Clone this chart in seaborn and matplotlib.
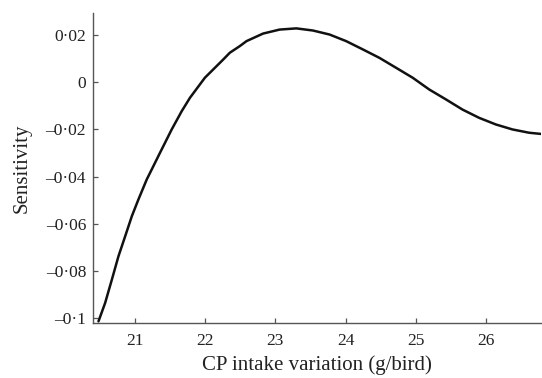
import numpy as np
import pandas as pd
import matplotlib
matplotlib.use("Agg")
import matplotlib.pyplot as plt
import seaborn as sns
from matplotlib.ticker import FuncFormatter

# Values
cp_intake = [20.478, 20.573, 20.669, 20.763, 20.858, 20.953, 21.047, 21.166,
             21.213, 21.355, 21.522, 21.664, 21.782, 21.995, 22.256, 22.351,
             22.493, 22.588, 22.824, 23.061, 23.299, 23.535, 23.772, 24.009,
             24.246, 24.484, 24.721, 24.957, 25.194, 25.432, 25.668, 25.905,
             26.143, 26.379, 26.616, 26.783]
sensitivity = [-0.1013, -0.0935, -0.0836, -0.0737, -0.0653, -0.0568, -0.0497, -0.0412,
               -0.0384, -0.0299, -0.0200, -0.0123, -0.0066, 0.0019, 0.0096, 0.0125,
               0.0153, 0.0174, 0.0206, 0.0223, 0.0228, 0.0219, 0.0202, 0.0174,
               0.0139, 0.0103, 0.0061, 0.0019, -0.0031, -0.0073, -0.0116, -0.0151,
               -0.0179, -0.0200, -0.0214, -0.0219]
x_ticks = [21, 22, 23, 24, 25, 26]
y_ticks = [-0.1, -0.08, -0.06, -0.04, -0.02, 0, 0.02]

df = pd.DataFrame({"cp": cp_intake, "sens": sensitivity})

sns.set_style("ticks")
plt.rcParams['font.family'] = ['Liberation Serif', 'DejaVu Serif']

fig = plt.figure(figsize=(5.42, 3.78), dpi=100)
ax = fig.add_axes([0.1716, 0.1455, 0.827, 0.82])

sns.lineplot(data=df, x="cp", y="sens", ax=ax, color="#111111", linewidth=1.8)

ax.set_xlim(20.40, 26.79)
ax.set_ylim(-0.102, 0.0293)
ax.set_xticks(x_ticks)
ax.set_yticks(y_ticks)


def fmt(v, pos):
    s = f"{abs(v):g}".replace(".", "\u00b7")
    return ("\u2013" + s) if v < -1e-9 else s


ax.yaxis.set_major_formatter(FuncFormatter(fmt))
ax.xaxis.set_major_formatter(FuncFormatter(lambda v, p: f"{v:g}"))

ax.tick_params(direction="in", length=3.5, width=0.9, color="#555555",
               labelsize=12.5, labelcolor="#222222")
ax.tick_params(axis="x", pad=7)
ax.tick_params(axis="y", pad=5)

for side in ["top", "right"]:
    ax.spines[side].set_visible(False)
for side in ["left", "bottom"]:
    ax.spines[side].set_color("#555555")
    ax.spines[side].set_linewidth(1.0)

ax.set_xlabel("CP intake variation (g/bird)", fontsize=15, color="#222222", labelpad=5)
ax.set_ylabel("Sensitivity", fontsize=15, color="#222222", labelpad=10)

fig.savefig("out.png", dpi=100)
